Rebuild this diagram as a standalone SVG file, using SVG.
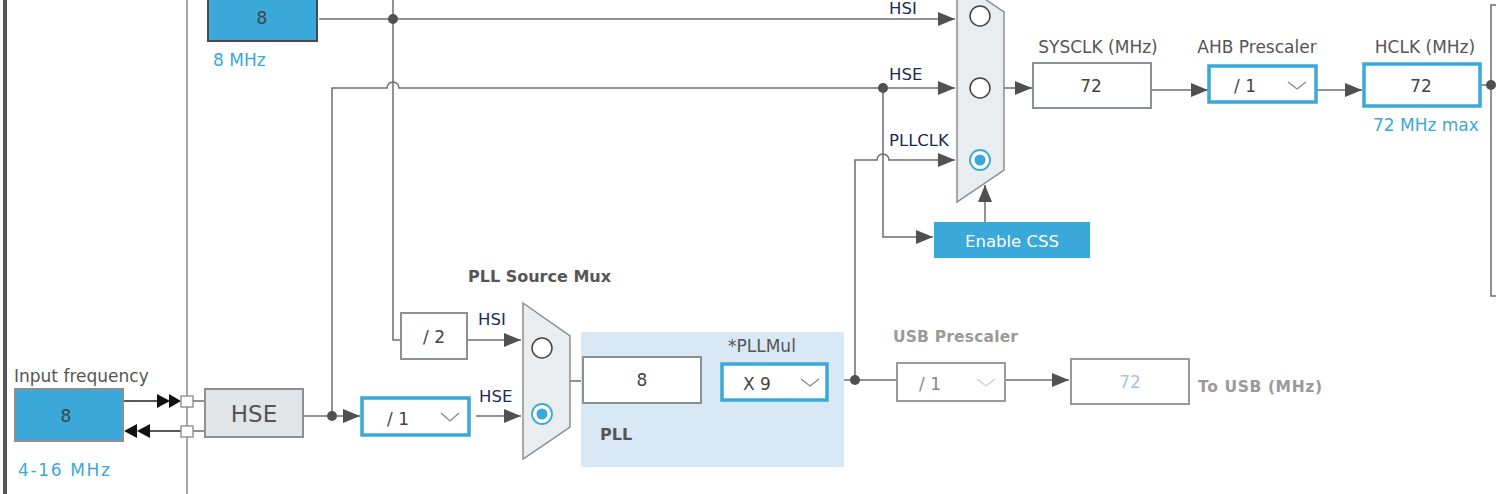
<svg xmlns="http://www.w3.org/2000/svg" width="1496" height="494" viewBox="0 0 1496 494">
<style>
text{font-family:"DejaVu Sans","Liberation Sans",sans-serif}
.lbl{fill:#555;font-size:17px}
.nav{fill:#1c2b4f;font-size:16.5px}
.blue{fill:#3aa8d8;font-size:17px}
.bold{fill:#555;font-size:16px;font-weight:bold}
.gbold{fill:#9a9a9a;font-size:15.5px;font-weight:bold}
.val{fill:#444;font-size:17px}
.ln{fill:none;stroke:#6e6e6e;stroke-width:1.5}
.box{fill:#fff;stroke:#8a9096;stroke-width:2}
.sel{fill:#fff;stroke:#3aa8d8;stroke-width:3.5}
.gbox{fill:#fff;stroke:#9a9a9a;stroke-width:2}
.chev{fill:none;stroke:#888;stroke-width:1.3}
.mux{fill:#e9edf0;stroke:#8a8f94;stroke-width:1.5}
.rad{fill:#fff;stroke:#444;stroke-width:1.5}
.rads{fill:#fff;stroke:#3aa8d8;stroke-width:1.8}
.dot{fill:#505050}
</style>
<defs>
<marker id="ah" markerUnits="userSpaceOnUse" markerWidth="18" markerHeight="14" refX="17" refY="7" orient="auto">
<path d="M0,0 L17,7 L0,14 z" fill="#505050"/>
</marker>
</defs>

<rect x="3" y="0" width="4" height="494" fill="#555"/>
<line x1="187" y1="0" x2="187" y2="494" stroke="#8a8a8a" stroke-width="1.5"/>

<g id="connectors">
<path class="ln" d="M319,19 H955" marker-end="url(#ah)"/>
<path class="ln" d="M393,0 V340 H401"/>
<path class="ln" d="M332,416 V88 H387 A6,6 0 0 1 399,88 H955" marker-end="url(#ah)"/>
<path class="ln" d="M883,88 V237 H933" marker-end="url(#ah)"/>
<path class="ln" d="M855,380 V160 H877 A6,6 0 0 1 889,160 H955" marker-end="url(#ah)"/>
<path class="ln" d="M1004,88 H1032" marker-end="url(#ah)"/>
<path class="ln" d="M1151,90 H1208" marker-end="url(#ah)"/>
<path class="ln" d="M1316,90 H1362" marker-end="url(#ah)"/>
<path class="ln" d="M1481,85 H1491"/>
<path class="ln" d="M1496,5 H1491 V296 H1496"/>
<path class="ln" d="M985,222 V185" marker-end="url(#ah)"/>
<path class="ln" d="M123,401 H160" style="stroke:#222"/>
<polygon points="157,394 170,401 157,408" fill="#111"/>
<polygon points="169,394 181,401 169,408" fill="#111"/>
<path class="ln" d="M181,431 H147" style="stroke:#222"/>
<polygon points="137,424 124,431 137,438" fill="#111"/>
<polygon points="150,424 137,431 150,438" fill="#111"/>
<path class="ln" d="M193,401 H205 M193,431 H205"/>
<path class="ln" d="M304,416 H360" marker-end="url(#ah)"/>
<path class="ln" d="M476,416 H521" marker-end="url(#ah)"/>
<path class="ln" d="M467,340 H521" marker-end="url(#ah)"/>
<path class="ln" d="M570,381 H583"/>
<path class="ln" d="M701,381 H721"/>
<path class="ln" d="M828,380 H897"/>
<path class="ln" d="M1005,380 H1069" marker-end="url(#ah)"/>
<circle class="dot" cx="393" cy="19" r="5"/>
<circle class="dot" cx="883" cy="88" r="5"/>
<circle class="dot" cx="332" cy="416" r="5"/>
<circle class="dot" cx="855" cy="380" r="5"/>
<circle class="dot" cx="1491" cy="85" r="5"/>
</g>

<g id="hsi-rc">
<rect x="208" y="-3" width="109" height="44" fill="#3aa8d8" stroke="#4a4a4a" stroke-width="2"/>
<text class="val" x="262" y="24" text-anchor="middle">8</text>
<text class="blue" x="213" y="66" font-size="17.5">8 MHz</text>
</g>

<g id="sysclk-mux">
<polygon class="mux" points="957,-20 1004,12 1004,170 957,202"/>
<circle class="rad" cx="980" cy="16" r="10"/>
<circle class="rad" cx="980" cy="88" r="10"/>
<circle class="rads" cx="980" cy="160" r="10"/>
<circle cx="980" cy="160" r="5.5" fill="#3aa8d8"/>
<text class="nav" x="889" y="14">HSI</text>
<text class="nav" x="889" y="80">HSE</text>
<text class="nav" x="889" y="146">PLLCLK</text>
</g>

<g id="enable-css">
<rect x="934" y="222" width="156" height="36" fill="#3aa8d8"/>
<text x="1012" y="247" text-anchor="middle" fill="#fff" font-size="16.5">Enable CSS</text>
</g>

<g id="sysclk">
<text class="lbl" x="1098" y="53" text-anchor="middle">SYSCLK (MHz)</text>
<rect class="box" x="1033" y="63" width="118" height="45"/>
<text class="val" x="1091" y="92" text-anchor="middle">72</text>
</g>

<g id="ahb-prescaler">
<text class="lbl" x="1257" y="53" text-anchor="middle">AHB Prescaler</text>
<rect class="sel" x="1209" y="66" width="107" height="36"/>
<text class="val" x="1234" y="92">/ 1</text>
<polyline class="chev" points="1288,82 1297,89 1306,82"/>
</g>

<g id="hclk">
<text class="lbl" x="1425" y="53" text-anchor="middle">HCLK (MHz)</text>
<rect class="sel" x="1364" y="64" width="116" height="42"/>
<text class="val" x="1421" y="92" text-anchor="middle">72</text>
<text class="blue" x="1373" y="131">72 MHz max</text>
</g>

<g id="input-frequency">
<text class="lbl" x="14" y="382" font-size="17.5">Input frequency</text>
<rect x="15" y="389" width="108" height="52" fill="#3aa8d8" stroke="#8a9096" stroke-width="2"/>
<text class="val" x="66" y="422" text-anchor="middle">8</text>
<text class="blue" x="18" y="476" font-size="17.5" textLength="92">4-16 MHz</text>
<rect x="181" y="396" width="12" height="11" fill="#fff" stroke="#888" stroke-width="1.3"/>
<rect x="181" y="426" width="12" height="11" fill="#fff" stroke="#888" stroke-width="1.3"/>
</g>

<g id="hse">
<rect x="205" y="389" width="98" height="48" fill="#e2e5e8" stroke="#8a9096" stroke-width="2"/>
<text x="254" y="422" text-anchor="middle" fill="#555" font-size="23">HSE</text>
</g>

<g id="hse-prediv">
<rect class="sel" x="362" y="398" width="107" height="37"/>
<text class="val" x="387" y="425">/ 1</text>
<polyline class="chev" points="441,413 450,421 459,413"/>
</g>

<g id="hsi-div2">
<rect class="box" x="401" y="313" width="66" height="46"/>
<text class="val" x="434" y="343" text-anchor="middle">/ 2</text>
</g>

<g id="pll-source-mux">
<text class="bold" x="468" y="282">PLL Source Mux</text>
<polygon class="mux" points="523,303 570,336 570,427 523,459"/>
<circle class="rad" cx="542" cy="348" r="10"/>
<circle class="rads" cx="542" cy="414" r="10"/>
<circle cx="542" cy="414" r="5.5" fill="#3aa8d8"/>
<text class="nav" x="478" y="325">HSI</text>
<text class="nav" x="479" y="402">HSE</text>
</g>

<g id="pll">
<rect x="581" y="332" width="263" height="135" fill="#d9e8f5"/>
<text class="bold" x="600" y="440">PLL</text>
<rect class="box" x="583" y="357" width="118" height="46"/>
<text class="val" x="642" y="386" text-anchor="middle">8</text>
<text class="lbl" x="728" y="352" font-size="16.5">*PLLMul</text>
<rect class="sel" x="722" y="364" width="105" height="36"/>
<text class="val" x="743" y="390">X 9</text>
<polyline class="chev" points="801,379 810,386 819,379"/>
</g>

<g id="usb-prescaler">
<text class="gbold" x="893" y="342" textLength="125">USB Prescaler</text>
<rect class="gbox" x="897" y="363" width="108" height="38"/>
<text x="919" y="390" fill="#888" font-size="17">/ 1</text>
<polyline points="977,379 986,386 995,379" fill="none" stroke="#ccc" stroke-width="1.3"/>
</g>

<g id="usb-clock">
<rect class="gbox" x="1071" y="359" width="118" height="45"/>
<text x="1130" y="388" text-anchor="middle" fill="#a9c4e0" font-size="17">72</text>
<text class="gbold" x="1198" y="392" font-size="16" textLength="124">To USB (MHz)</text>
</g>
</svg>
